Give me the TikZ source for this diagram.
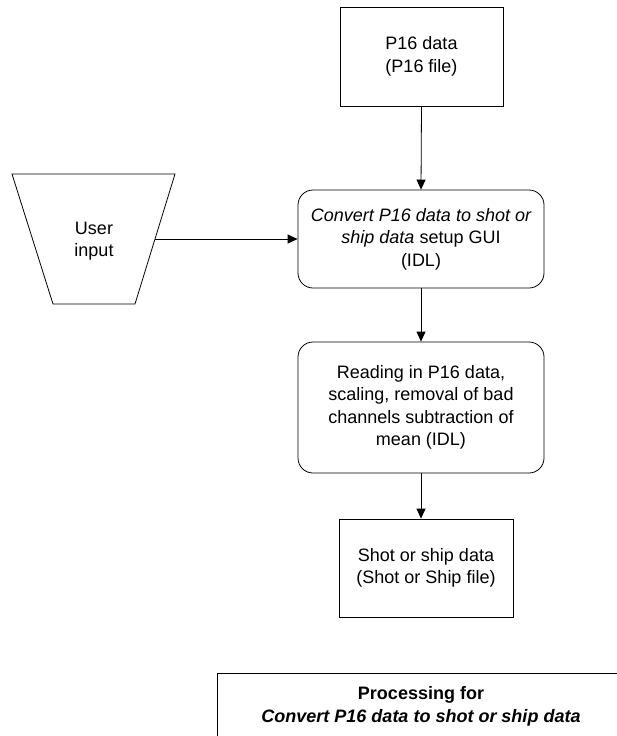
\documentclass[tikz,border=0pt]{standalone}
\usepackage{fontspec}
\setmainfont{Liberation Sans}
\usetikzlibrary{arrows.meta,calc}
\tikzset{
  line/.style={line width=0.8pt, draw=black},
  flow/.style={line, -{Triangle[length=10pt,width=9pt]}},
  txt/.style={align=center, font=\fontsize{18}{22.5}\selectfont, inner sep=0pt},
  databox/.style={line, txt, rectangle, minimum height=99pt},
  procbox/.style={line, txt, rectangle, rounded corners=15pt, minimum width=246pt},
}
\begin{document}
\begin{tikzpicture}[x=1pt, y=-1pt]
  \useasboundingbox (0,0) rectangle (616,736);

  % data sources and sinks
  \node[databox, minimum width=163pt] (p16) at (421.5,56.5) {P16 data\\(P16 file)};
  \node[procbox, minimum height=98pt] (conv) at (421,239)
    {\itshape Convert P16 data to shot or\\\itshape ship data\upshape{} setup GUI\\(IDL)};
  \node[procbox, minimum height=131pt] (read) at (421,407.5)
    {Reading in P16 data,\\scaling, removal of bad\\channels subtraction of\\mean (IDL)};
  \node[databox, minimum width=174pt, minimum height=98pt] (shot) at (426,568)
    {Shot or ship data\\(Shot or Ship file)};

  % manual input trapezium
  \coordinate (ui-tl) at (12,174);
  \coordinate (ui-tr) at (175,174);
  \coordinate (ui-br) at (135,304);
  \coordinate (ui-bl) at (53,304);
  \coordinate (ui-east) at ($(ui-tr)!0.5!(ui-br)$);
  \draw[line] (ui-tl) -- (ui-tr) -- (ui-br) -- (ui-bl) -- cycle;
  \node[txt] (ui) at (94,241) {User\\input};

  % connectors
  \draw[flow] (p16.south) -- (conv.north);
  \draw[flow] (ui-east) -- (conv.west);
  \draw[flow] (conv) -- (read);
  \draw[flow] (read.south) -- (read.south |- shot.north);

  % caption frame, running off the page
  \draw[line] (217,737) -- (217,673) -- (617,673);
  \node[align=center, inner sep=0pt, font=\bfseries\fontsize{18}{23}\selectfont]
    (proc) at (421,706) {Processing for\\\itshape Convert P16 data to shot or ship data};
\end{tikzpicture}
\end{document}
